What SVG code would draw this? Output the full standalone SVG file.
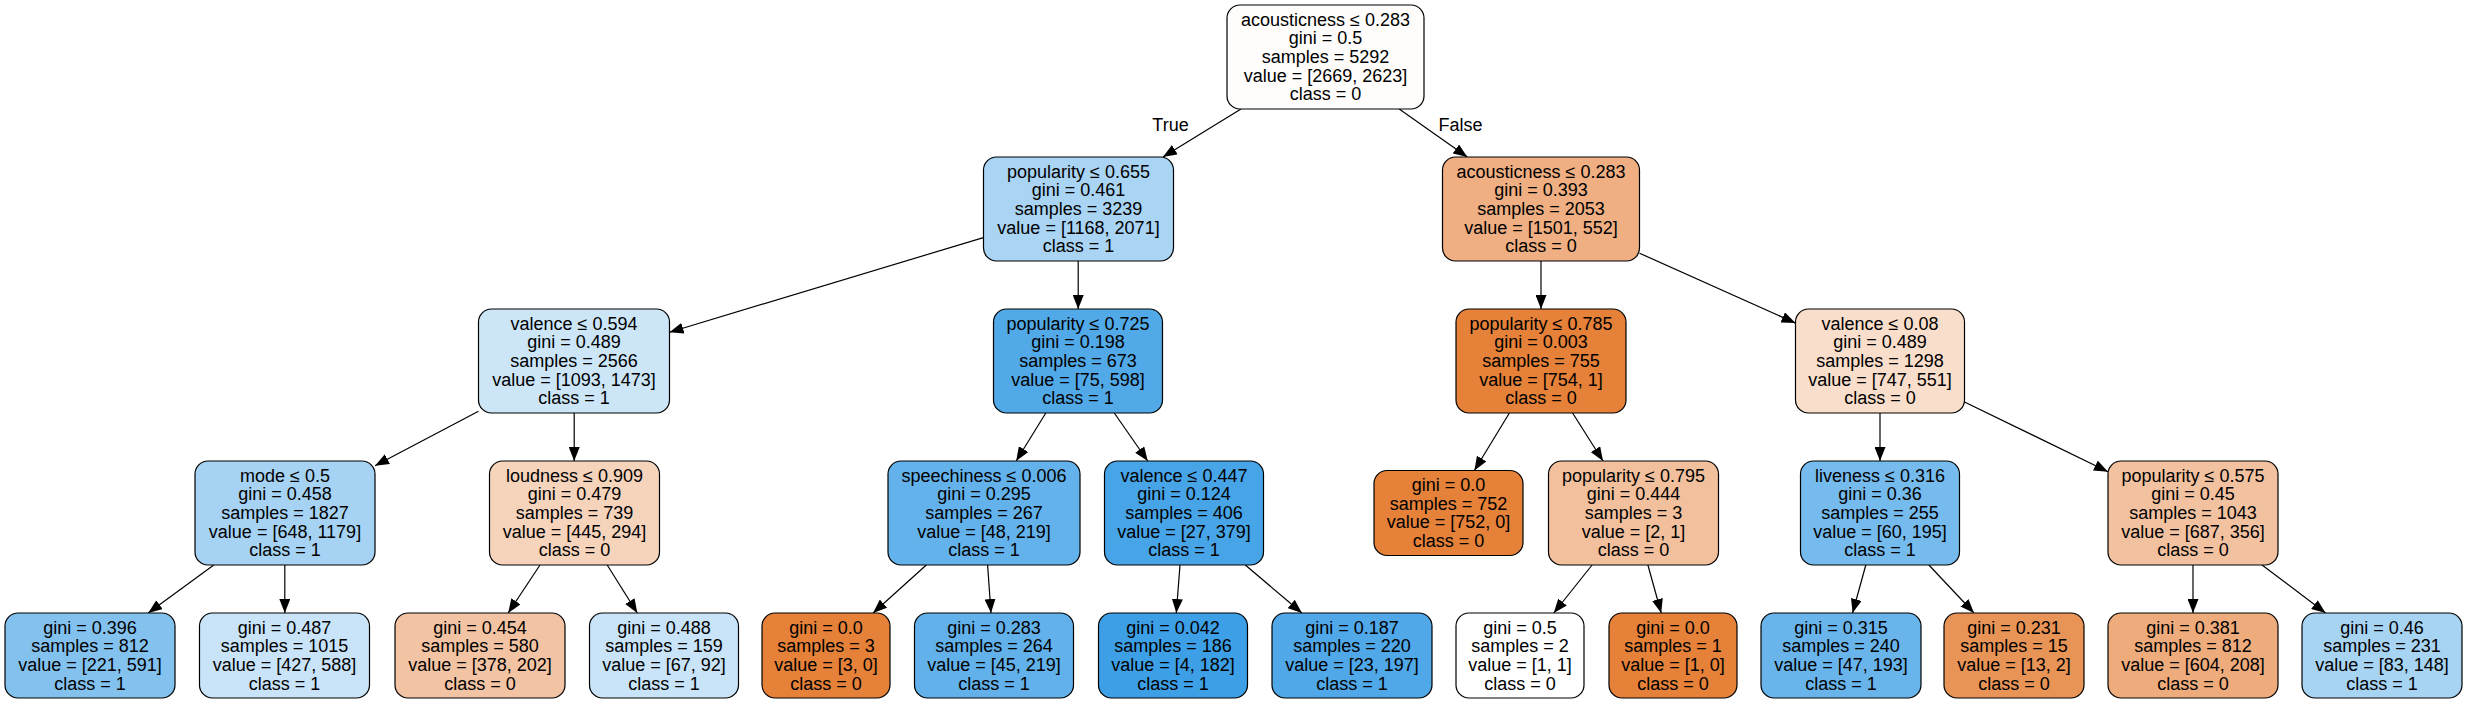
<svg xmlns="http://www.w3.org/2000/svg" width="2468" height="704" viewBox="0 0 2468 704">
<style>
rect.b{stroke:#000;stroke-width:1.2}
text{font-family:"Liberation Sans",Arial,Helvetica,sans-serif;font-size:18px;text-anchor:middle;fill:#000}
.e line{stroke:#000;stroke-width:1.2}
</style>
<defs>
<marker id="ah" markerUnits="userSpaceOnUse" markerWidth="14" markerHeight="11" viewBox="0 0 14 11" refX="14" refY="5.5" orient="auto">
<path d="M0,0 L14,5.5 L0,11 z" fill="#000"/>
</marker>
</defs>
<rect width="2468" height="704" fill="#fff"/>
<g id="edges" class="e" marker-end="url(#ah)">
<line x1="1241" y1="109" x2="1162.9" y2="157" marker-end="url(#ah)"/>
<line x1="1399.2" y1="109" x2="1467.3" y2="157" marker-end="url(#ah)"/>
<line x1="983.4" y1="237.6" x2="669.5" y2="332.2" marker-end="url(#ah)"/>
<line x1="1078.2" y1="261" x2="1078.2" y2="309" marker-end="url(#ah)"/>
<line x1="1541" y1="261" x2="1541" y2="309" marker-end="url(#ah)"/>
<line x1="1639.5" y1="253.2" x2="1795.5" y2="323.1" marker-end="url(#ah)"/>
<line x1="478.5" y1="411.2" x2="375" y2="465.7" marker-end="url(#ah)"/>
<line x1="574.2" y1="413" x2="574.2" y2="461" marker-end="url(#ah)"/>
<line x1="1045.8" y1="413" x2="1016.2" y2="461" marker-end="url(#ah)"/>
<line x1="1114.3" y1="413" x2="1147.7" y2="461" marker-end="url(#ah)"/>
<line x1="1509.4" y1="413" x2="1474.4" y2="470.5" marker-end="url(#ah)"/>
<line x1="1572.6" y1="413" x2="1603" y2="461" marker-end="url(#ah)"/>
<line x1="1880" y1="413" x2="1880" y2="461" marker-end="url(#ah)"/>
<line x1="1964.5" y1="402" x2="2108" y2="471.7" marker-end="url(#ah)"/>
<line x1="213.8" y1="565" x2="148.2" y2="613" marker-end="url(#ah)"/>
<line x1="284.8" y1="565" x2="284.8" y2="613" marker-end="url(#ah)"/>
<line x1="540" y1="565" x2="508.2" y2="613" marker-end="url(#ah)"/>
<line x1="607.2" y1="565" x2="637.3" y2="613" marker-end="url(#ah)"/>
<line x1="926.3" y1="565" x2="873.1" y2="613" marker-end="url(#ah)"/>
<line x1="987.6" y1="565" x2="991" y2="613" marker-end="url(#ah)"/>
<line x1="1180" y1="565" x2="1176.3" y2="613" marker-end="url(#ah)"/>
<line x1="1245.3" y1="565" x2="1301.9" y2="613" marker-end="url(#ah)"/>
<line x1="1592.1" y1="565" x2="1553.8" y2="613" marker-end="url(#ah)"/>
<line x1="1647.9" y1="565" x2="1661.2" y2="613" marker-end="url(#ah)"/>
<line x1="1865.8" y1="565" x2="1852.6" y2="613" marker-end="url(#ah)"/>
<line x1="1928.9" y1="565" x2="1974" y2="613" marker-end="url(#ah)"/>
<line x1="2193" y1="565" x2="2193" y2="613" marker-end="url(#ah)"/>
<line x1="2262" y1="565" x2="2325.6" y2="613" marker-end="url(#ah)"/>
<text x="1170.5" y="131">True</text>
<text x="1460.5" y="131">False</text>
</g>
<g id="n0"><rect class="b" x="1227" y="5" width="197" height="104" rx="13" fill="#fffdfc"/>
<text x="1325.5" y="25.6"><tspan x="1325.5">acousticness ≤ 0.283</tspan><tspan x="1325.5" dy="18.7">gini = 0.5</tspan><tspan x="1325.5" dy="18.7">samples = 5292</tspan><tspan x="1325.5" dy="18.7">value = [2669, 2623]</tspan><tspan x="1325.5" dy="18.7">class = 0</tspan></text></g>
<g id="n1"><rect class="b" x="983.5" y="157" width="190" height="104" rx="13" fill="#a9d4f4"/>
<text x="1078.5" y="177.6"><tspan x="1078.5">popularity ≤ 0.655</tspan><tspan x="1078.5" dy="18.7">gini = 0.461</tspan><tspan x="1078.5" dy="18.7">samples = 3239</tspan><tspan x="1078.5" dy="18.7">value = [1168, 2071]</tspan><tspan x="1078.5" dy="18.7">class = 1</tspan></text></g>
<g id="n2"><rect class="b" x="1442.5" y="157" width="197" height="104" rx="13" fill="#efaf82"/>
<text x="1541" y="177.6"><tspan x="1541">acousticness ≤ 0.283</tspan><tspan x="1541" dy="18.7">gini = 0.393</tspan><tspan x="1541" dy="18.7">samples = 2053</tspan><tspan x="1541" dy="18.7">value = [1501, 552]</tspan><tspan x="1541" dy="18.7">class = 0</tspan></text></g>
<g id="n3"><rect class="b" x="478.5" y="309" width="191" height="104" rx="13" fill="#cce6f8"/>
<text x="574" y="329.6"><tspan x="574">valence ≤ 0.594</tspan><tspan x="574" dy="18.7">gini = 0.489</tspan><tspan x="574" dy="18.7">samples = 2566</tspan><tspan x="574" dy="18.7">value = [1093, 1473]</tspan><tspan x="574" dy="18.7">class = 1</tspan></text></g>
<g id="n4"><rect class="b" x="993.5" y="309" width="169" height="104" rx="13" fill="#52a9e8"/>
<text x="1078" y="329.6"><tspan x="1078">popularity ≤ 0.725</tspan><tspan x="1078" dy="18.7">gini = 0.198</tspan><tspan x="1078" dy="18.7">samples = 673</tspan><tspan x="1078" dy="18.7">value = [75, 598]</tspan><tspan x="1078" dy="18.7">class = 1</tspan></text></g>
<g id="n5"><rect class="b" x="1456" y="309" width="170" height="104" rx="13" fill="#e58139"/>
<text x="1541" y="329.6"><tspan x="1541">popularity ≤ 0.785</tspan><tspan x="1541" dy="18.7">gini = 0.003</tspan><tspan x="1541" dy="18.7">samples = 755</tspan><tspan x="1541" dy="18.7">value = [754, 1]</tspan><tspan x="1541" dy="18.7">class = 0</tspan></text></g>
<g id="n6"><rect class="b" x="1795.5" y="309" width="169" height="104" rx="13" fill="#f8decb"/>
<text x="1880" y="329.6"><tspan x="1880">valence ≤ 0.08</tspan><tspan x="1880" dy="18.7">gini = 0.489</tspan><tspan x="1880" dy="18.7">samples = 1298</tspan><tspan x="1880" dy="18.7">value = [747, 551]</tspan><tspan x="1880" dy="18.7">class = 0</tspan></text></g>
<g id="n7"><rect class="b" x="195" y="461" width="180" height="104" rx="13" fill="#a6d3f3"/>
<text x="285" y="481.6"><tspan x="285">mode ≤ 0.5</tspan><tspan x="285" dy="18.7">gini = 0.458</tspan><tspan x="285" dy="18.7">samples = 1827</tspan><tspan x="285" dy="18.7">value = [648, 1179]</tspan><tspan x="285" dy="18.7">class = 1</tspan></text></g>
<g id="n8"><rect class="b" x="489.5" y="461" width="170" height="104" rx="13" fill="#f6d4bc"/>
<text x="574.5" y="481.6"><tspan x="574.5">loudness ≤ 0.909</tspan><tspan x="574.5" dy="18.7">gini = 0.479</tspan><tspan x="574.5" dy="18.7">samples = 739</tspan><tspan x="574.5" dy="18.7">value = [445, 294]</tspan><tspan x="574.5" dy="18.7">class = 0</tspan></text></g>
<g id="n9"><rect class="b" x="888" y="461" width="192" height="104" rx="13" fill="#64b2eb"/>
<text x="984" y="481.6"><tspan x="984">speechiness ≤ 0.006</tspan><tspan x="984" dy="18.7">gini = 0.295</tspan><tspan x="984" dy="18.7">samples = 267</tspan><tspan x="984" dy="18.7">value = [48, 219]</tspan><tspan x="984" dy="18.7">class = 1</tspan></text></g>
<g id="n10"><rect class="b" x="1104.5" y="461" width="159" height="104" rx="13" fill="#47a4e7"/>
<text x="1184" y="481.6"><tspan x="1184">valence ≤ 0.447</tspan><tspan x="1184" dy="18.7">gini = 0.124</tspan><tspan x="1184" dy="18.7">samples = 406</tspan><tspan x="1184" dy="18.7">value = [27, 379]</tspan><tspan x="1184" dy="18.7">class = 1</tspan></text></g>
<g id="n11"><rect class="b" x="1374" y="470.5" width="149" height="85" rx="13" fill="#e58139"/>
<text x="1448.5" y="491"><tspan x="1448.5">gini = 0.0</tspan><tspan x="1448.5" dy="18.7">samples = 752</tspan><tspan x="1448.5" dy="18.7">value = [752, 0]</tspan><tspan x="1448.5" dy="18.7">class = 0</tspan></text></g>
<g id="n12"><rect class="b" x="1548.5" y="461" width="170" height="104" rx="13" fill="#f2c09c"/>
<text x="1633.5" y="481.6"><tspan x="1633.5">popularity ≤ 0.795</tspan><tspan x="1633.5" dy="18.7">gini = 0.444</tspan><tspan x="1633.5" dy="18.7">samples = 3</tspan><tspan x="1633.5" dy="18.7">value = [2, 1]</tspan><tspan x="1633.5" dy="18.7">class = 0</tspan></text></g>
<g id="n13"><rect class="b" x="1800.5" y="461" width="159" height="104" rx="13" fill="#76bbed"/>
<text x="1880" y="481.6"><tspan x="1880">liveness ≤ 0.316</tspan><tspan x="1880" dy="18.7">gini = 0.36</tspan><tspan x="1880" dy="18.7">samples = 255</tspan><tspan x="1880" dy="18.7">value = [60, 195]</tspan><tspan x="1880" dy="18.7">class = 1</tspan></text></g>
<g id="n14"><rect class="b" x="2108" y="461" width="170" height="104" rx="13" fill="#f2c2a0"/>
<text x="2193" y="481.6"><tspan x="2193">popularity ≤ 0.575</tspan><tspan x="2193" dy="18.7">gini = 0.45</tspan><tspan x="2193" dy="18.7">samples = 1043</tspan><tspan x="2193" dy="18.7">value = [687, 356]</tspan><tspan x="2193" dy="18.7">class = 0</tspan></text></g>
<g id="n15"><rect class="b" x="5" y="613" width="170" height="85" rx="13" fill="#83c2ef"/>
<text x="90" y="633.5"><tspan x="90">gini = 0.396</tspan><tspan x="90" dy="18.7">samples = 812</tspan><tspan x="90" dy="18.7">value = [221, 591]</tspan><tspan x="90" dy="18.7">class = 1</tspan></text></g>
<g id="n16"><rect class="b" x="199.5" y="613" width="170" height="85" rx="13" fill="#c9e4f8"/>
<text x="284.5" y="633.5"><tspan x="284.5">gini = 0.487</tspan><tspan x="284.5" dy="18.7">samples = 1015</tspan><tspan x="284.5" dy="18.7">value = [427, 588]</tspan><tspan x="284.5" dy="18.7">class = 1</tspan></text></g>
<g id="n17"><rect class="b" x="395" y="613" width="170" height="85" rx="13" fill="#f3c4a3"/>
<text x="480" y="633.5"><tspan x="480">gini = 0.454</tspan><tspan x="480" dy="18.7">samples = 580</tspan><tspan x="480" dy="18.7">value = [378, 202]</tspan><tspan x="480" dy="18.7">class = 0</tspan></text></g>
<g id="n18"><rect class="b" x="589.5" y="613" width="149" height="85" rx="13" fill="#c9e4f8"/>
<text x="664" y="633.5"><tspan x="664">gini = 0.488</tspan><tspan x="664" dy="18.7">samples = 159</tspan><tspan x="664" dy="18.7">value = [67, 92]</tspan><tspan x="664" dy="18.7">class = 1</tspan></text></g>
<g id="n19"><rect class="b" x="762" y="613" width="128" height="85" rx="13" fill="#e58139"/>
<text x="826" y="633.5"><tspan x="826">gini = 0.0</tspan><tspan x="826" dy="18.7">samples = 3</tspan><tspan x="826" dy="18.7">value = [3, 0]</tspan><tspan x="826" dy="18.7">class = 0</tspan></text></g>
<g id="n20"><rect class="b" x="914.5" y="613" width="159" height="85" rx="13" fill="#62b1ea"/>
<text x="994" y="633.5"><tspan x="994">gini = 0.283</tspan><tspan x="994" dy="18.7">samples = 264</tspan><tspan x="994" dy="18.7">value = [45, 219]</tspan><tspan x="994" dy="18.7">class = 1</tspan></text></g>
<g id="n21"><rect class="b" x="1098.5" y="613" width="149" height="85" rx="13" fill="#3d9fe6"/>
<text x="1173" y="633.5"><tspan x="1173">gini = 0.042</tspan><tspan x="1173" dy="18.7">samples = 186</tspan><tspan x="1173" dy="18.7">value = [4, 182]</tspan><tspan x="1173" dy="18.7">class = 1</tspan></text></g>
<g id="n22"><rect class="b" x="1272" y="613" width="160" height="85" rx="13" fill="#50a8e8"/>
<text x="1352" y="633.5"><tspan x="1352">gini = 0.187</tspan><tspan x="1352" dy="18.7">samples = 220</tspan><tspan x="1352" dy="18.7">value = [23, 197]</tspan><tspan x="1352" dy="18.7">class = 1</tspan></text></g>
<g id="n23"><rect class="b" x="1456" y="613" width="128" height="85" rx="13" fill="#ffffff"/>
<text x="1520" y="633.5"><tspan x="1520">gini = 0.5</tspan><tspan x="1520" dy="18.7">samples = 2</tspan><tspan x="1520" dy="18.7">value = [1, 1]</tspan><tspan x="1520" dy="18.7">class = 0</tspan></text></g>
<g id="n24"><rect class="b" x="1609" y="613" width="128" height="85" rx="13" fill="#e58139"/>
<text x="1673" y="633.5"><tspan x="1673">gini = 0.0</tspan><tspan x="1673" dy="18.7">samples = 1</tspan><tspan x="1673" dy="18.7">value = [1, 0]</tspan><tspan x="1673" dy="18.7">class = 0</tspan></text></g>
<g id="n25"><rect class="b" x="1761" y="613" width="160" height="85" rx="13" fill="#69b5eb"/>
<text x="1841" y="633.5"><tspan x="1841">gini = 0.315</tspan><tspan x="1841" dy="18.7">samples = 240</tspan><tspan x="1841" dy="18.7">value = [47, 193]</tspan><tspan x="1841" dy="18.7">class = 1</tspan></text></g>
<g id="n26"><rect class="b" x="1944" y="613" width="140" height="85" rx="13" fill="#e99457"/>
<text x="2014" y="633.5"><tspan x="2014">gini = 0.231</tspan><tspan x="2014" dy="18.7">samples = 15</tspan><tspan x="2014" dy="18.7">value = [13, 2]</tspan><tspan x="2014" dy="18.7">class = 0</tspan></text></g>
<g id="n27"><rect class="b" x="2108" y="613" width="170" height="85" rx="13" fill="#eeac7d"/>
<text x="2193" y="633.5"><tspan x="2193">gini = 0.381</tspan><tspan x="2193" dy="18.7">samples = 812</tspan><tspan x="2193" dy="18.7">value = [604, 208]</tspan><tspan x="2193" dy="18.7">class = 0</tspan></text></g>
<g id="n28"><rect class="b" x="2302" y="613" width="160" height="85" rx="13" fill="#a8d4f4"/>
<text x="2382" y="633.5"><tspan x="2382">gini = 0.46</tspan><tspan x="2382" dy="18.7">samples = 231</tspan><tspan x="2382" dy="18.7">value = [83, 148]</tspan><tspan x="2382" dy="18.7">class = 1</tspan></text></g>
</svg>
